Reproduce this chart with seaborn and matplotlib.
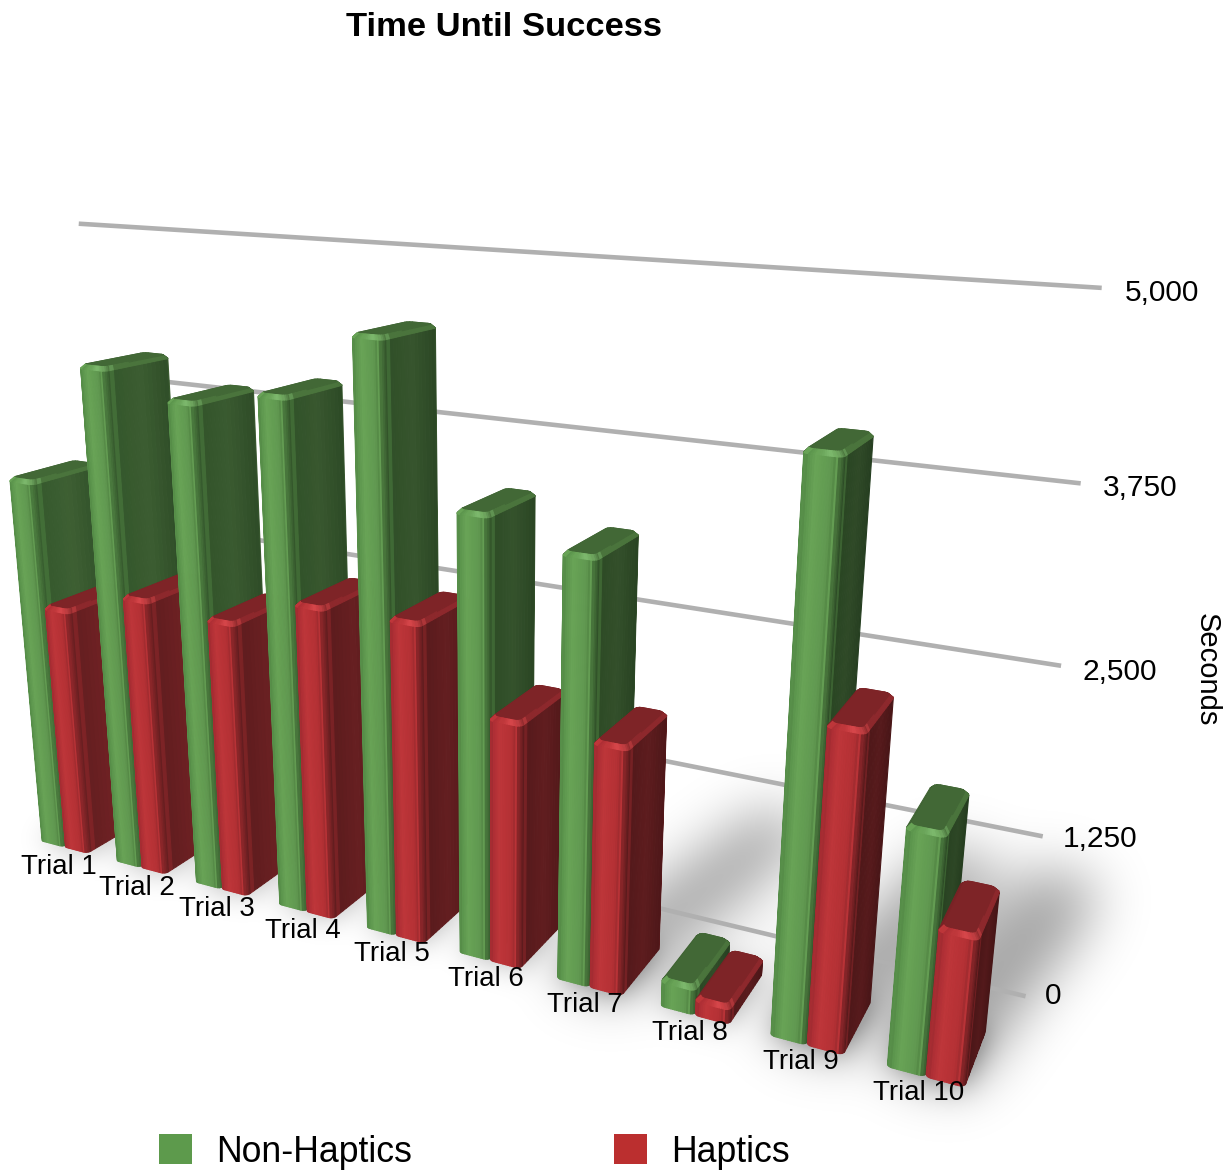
import numpy as np
import pandas as pd
import seaborn as sns
import matplotlib
matplotlib.use("Agg")
import matplotlib.pyplot as plt
from matplotlib.patches import Patch
from matplotlib.path import Path
from mpl_toolkits.mplot3d import proj3d
from mpl_toolkits.mplot3d.art3d import Poly3DCollection

# ---- data -------------------------------------------------------------
trials = ["Trial 1", "Trial 2", "Trial 3", "Trial 4", "Trial 5",
          "Trial 6", "Trial 7", "Trial 8", "Trial 9", "Trial 10"]
non_haptics = [3130, 4090, 3905, 4025, 4510, 3375, 3190, 215, 4060, 1735]
haptics = [2110, 2315, 2260, 2505, 2515, 1915, 1890, 135, 2320, 1085]
value_ticks = [0, 1250, 2500, 3750, 5000]
tick_labels = ["0", "1,250", "2,500", "3,750", "5,000"]
series_names = ["Non-Haptics", "Haptics"]
axis_title = "Seconds"
chart_title = "Time Until Success"

sns.set_theme(style="white")
plt.rcParams["font.family"] = ["Liberation Sans", "DejaVu Sans"]
palette = sns.color_palette(["#5d9a4c", "#bb2f2f"])

df = pd.DataFrame({"trial": trials, series_names[0]: non_haptics, series_names[1]: haptics})

W, H = 1231, 1171
fig = plt.figure(figsize=(W / 100, H / 100), dpi=100, facecolor="white")

# ---- camera: pinhole model expressed through Axes3D's own view parameters
F_PX = 1544.0            # focal length in pixels
PX, PY = 606.0, 548.0    # principal point
UX, UY = 0.1334, 0.131   # world size of one x / y data unit
UZ = 6031.0              # value units per world unit
CAM_DIST = 1.9
xlim, ylim, zlim = (0, 11.8), (0, 3.107), (0, 5745)
aspect = np.array([(xlim[1] - xlim[0]) * UX, (ylim[1] - ylim[0]) * UY, (zlim[1] - zlim[0]) / UZ])
s = 1.8294640721620434 * 25 / 24 / np.linalg.norm(aspect)
focal = CAM_DIST * s / 10
S = F_PX / focal * 0.185
left = PX - S * 0.095 / 0.185
bottom = (H - PY) - S * 0.095 / 0.185
ax = fig.add_axes([left / W, bottom / H, S / W, S / H], projection="3d", zorder=1)
ax.set_xlim(*xlim, view_margin=0)
ax.set_ylim(*ylim, view_margin=0)
ax.set_zlim(*zlim, view_margin=0)
ax.set_box_aspect(aspect)
ax.set_proj_type("persp", focal_length=focal)
ax.view_init(elev=16.0, azim=-66.0, roll=-1.18)
ax.set_axis_off()
ax.computed_zorder = False
ax.patch.set_alpha(0)
ax.apply_aspect()
M = ax.get_proj()


def to_pixels(x, y, z):
    """Project data coordinates through the 3D axes to display pixels (origin bottom-left)."""
    tx, ty, _ = proj3d.proj_transform(np.asarray(x, float), np.asarray(y, float), np.asarray(z, float), M)
    return ax.transData.transform(np.column_stack([tx, ty]))


cam_xy = np.array([1.53 / UX, -1.465 / UY])
BAR_W, BAR_D, GAP, WALL_Y = 0.3186, 0.92, 0.178, 1.595
RADIUS, BEVEL = 0.05, 28.0


def ramp(stops, t):
    xs = [a for a, _ in stops]
    return np.array([np.interp(t, xs, [c[k] for _, c in stops]) for k in range(3)]) / 255.0


STYLES = {
    0: dict(front=[(0, (90, 148, 76)), (.3, (104, 163, 86)), (.85, (96, 152, 80)), (1, (82, 134, 68))],
            side=[(0, (50, 84, 42)), (.5, (58, 90, 48)), (1, (46, 76, 39))],
            top=(66, 104, 54), rim=(124, 184, 108)),
    1: dict(front=[(0, (172, 46, 52)), (.3, (190, 54, 58)), (.85, (180, 48, 52)), (1, (156, 42, 46))],
            side=[(0, (94, 28, 30)), (.5, (106, 32, 34)), (1, (88, 26, 28))],
            top=(126, 36, 39), rim=(214, 70, 74)),
}


def footprint(x0, x1, y0, y1, r):
    """Rounded rectangle outline: point, outward normal, face kind and position on that face."""
    pts = []
    for u in np.linspace(0, 1, 13):
        pts.append((x0 + r + (x1 - x0 - 2 * r) * u, y0, 0, -1, "front", u))
    for a in np.radians(np.linspace(-90, 0, 6))[1:]:
        pts.append((x1 - r + r * np.cos(a), y0 + r + r * np.sin(a), np.cos(a), np.sin(a), "cr", (a + np.pi / 2) / (np.pi / 2)))
    for u in np.linspace(0, 1, 15)[1:]:
        pts.append((x1, y0 + r + (y1 - y0 - 2 * r) * u, 1, 0, "side", u))
    for a in np.radians(np.linspace(0, 90, 4))[1:]:
        pts.append((x1 - r + r * np.cos(a), y1 - r + r * np.sin(a), np.cos(a), np.sin(a), "back", 0))
    pts.append((x0 + r, y1, 0, 1, "back", 0))
    for a in np.radians(np.linspace(90, 180, 4))[1:]:
        pts.append((x0 + r + r * np.cos(a), y1 - r + r * np.sin(a), np.cos(a), np.sin(a), "back", 0))
    pts.append((x0, y0 + r, -1, 0, "back", 0))
    for a in np.radians(np.linspace(180, 270, 6))[1:-1]:
        pts.append((x0 + r + r * np.cos(a), y0 + r + r * np.sin(a), np.cos(a), np.sin(a), "cl", (a - np.pi) / (np.pi / 2)))
    return pts


def facet_colour(style, kind, u, dark):
    if kind == "front":
        return ramp(style["front"], u)
    if kind == "side":
        return ramp(style["side"], u) * dark
    if kind == "cr":
        a = ramp(style["front"], 1.0)
        b = ramp(style["side"], 0.0) * dark
        return a + (b - a) * u
    if kind == "cl":
        return ramp(style["front"], 0.0) * (0.92 + 0.08 * u)
    return np.array(style["top"]) / 255.0


def ring_colour(style, kind, u):
    top = np.array(style["top"]) / 255.0
    rim = np.array(style["rim"]) / 255.0
    if kind == "front":
        base = ramp(style["front"], u)
        w = np.exp(-((u - 0.82) / 0.3) ** 2)
        return base + (rim - base) * w
    if kind == "cr":
        return rim + (top * 1.1 - rim) * u
    if kind == "cl":
        return ramp(style["front"], 0.3)
    if kind == "side":
        return top * 1.12
    return top * 0.95


def draw_bar(x0, value, series, order, index):
    style = STYLES[series]
    dark = 1.06 - 0.03 * index
    x1, y0, y1 = x0 + BAR_W, 0.0, BAR_D
    bev = min(BEVEL, value * 0.4)
    outer = footprint(x0, x1, y0, y1, RADIUS)
    inset = 0.03
    inner = footprint(x0 + inset, x1 - inset, y0 + inset, y1 - inset, RADIUS)
    top_rgb = np.array(style["top"]) / 255.0
    polys, cols = [], []
    n = len(outer)
    for k in range(n):
        a, b = outer[k], outer[(k + 1) % n]
        ia, ib = inner[k], inner[(k + 1) % n]
        mid = np.array([(a[0] + b[0]) / 2, (a[1] + b[1]) / 2])
        normal = np.array([(a[2] + b[2]) / 2, (a[3] + b[3]) / 2])
        u = (a[5] + b[5]) / 2
        if np.dot(cam_xy - mid, normal) > 0:
            polys.append([(a[0], a[1], 0), (b[0], b[1], 0), (b[0], b[1], value - bev), (a[0], a[1], value - bev)])
            cols.append(facet_colour(style, a[4], u, dark))
        polys.append([(a[0], a[1], value - bev), (b[0], b[1], value - bev), (ib[0], ib[1], value), (ia[0], ia[1], value)])
        cols.append(ring_colour(style, a[4], u))
    polys.append([(p[0], p[1], value) for p in inner])
    cols.append(top_rgb)
    cols = [tuple(np.clip(c, 0, 1)) for c in cols]
    ax.add_collection3d(Poly3DCollection(polys, facecolors=cols, edgecolors=cols, linewidths=0.8, zorder=order))


# ---- floor shadows: rasterised footprints swept over the floor, softly blurred
cast_strength = [0.0, 0.0, 0.0, 0.0, 0.0, 0.0, 1.0, 0.1, 1.0, 1.0]
cast_reach = 3.2
ds = 2
gy, gx = np.mgrid[0:H // ds, 0:W // ds]
grid = np.column_stack([(gx.ravel() + 0.5) * ds, (gy.ravel() + 0.5) * ds])


def gaussian(img, sigma):
    radius = int(3 * sigma)
    kernel = np.exp(-0.5 * (np.arange(-radius, radius + 1) / sigma) ** 2)
    kernel /= kernel.sum()
    out = np.apply_along_axis(lambda v: np.convolve(v, kernel, mode="same"), 0, img)
    return np.apply_along_axis(lambda v: np.convolve(v, kernel, mode="same"), 1, out)


def fill(poly_xy):
    pts = to_pixels([p[0] for p in poly_xy], [p[1] for p in poly_xy], [0] * len(poly_xy))
    return Path(pts).contains_points(grid).reshape(gx.shape).astype(float)


halo = np.zeros(gx.shape)
cast = np.zeros(gx.shape)
for i, st in enumerate(cast_strength):
    xa, xb = i + GAP, i + GAP + 2 * BAR_W
    halo = np.maximum(halo, fill([(xa, 0), (xb, 0), (xb, BAR_D), (xa, BAR_D)]))
    if st > 0:
        L = cast_reach * (1.0 if st > 0.5 else 0.3)
        dx, dy = 0.16 * L, L
        cast = np.maximum(cast, st * fill([(xa, 0), (xb, 0), (xb + dx, dy), (xb + dx, BAR_D + dy),
                                           (xa + dx, BAR_D + dy), (xa, BAR_D)]))
shade = 0.38 * gaussian(cast, 14.0) + 0.30 * gaussian(halo, 7.0)
rgba = np.zeros(gx.shape + (4,))
rgba[..., 3] = np.clip(shade, 0, 0.36)
bg = fig.add_axes([0, 0, 1, 1], zorder=0)
bg.imshow(rgba, origin="lower", extent=(0, W, 0, H), interpolation="bilinear", aspect="auto")
bg.set_xlim(0, W)
bg.set_ylim(0, H)
bg.set_axis_off()


def fig_text_at(px, py, label, **kw):
    fig.text(px / W, py / H, label, **kw)


# ---- gridlines on the back wall, with labels
label_nudge = [5, 1, -3, -2, -4]
for v, lab, dy in zip(value_ticks, tick_labels, label_nudge):
    ax.plot([-0.14, 10.03], [WALL_Y, WALL_Y], [v, v], color="#b0b0b0", lw=3.3, zorder=2, solid_capstyle="butt")
    px, py = to_pixels([10.2], [WALL_Y], [v])[0]
    fig_text_at(px, py + dy, lab, fontsize=21.5, color="black", ha="left", va="center", zorder=5)

# ---- bars, back to front for the viewer (left to right)
order = 3
for i, row in df.iterrows():
    draw_bar(i + GAP, row[series_names[0]], 0, order, i)
    draw_bar(i + GAP + BAR_W, row[series_names[1]], 1, order + 1, i)
    order += 2

# ---- category labels
for i, lab in enumerate(trials):
    px, py = to_pixels([i + 0.78 - 0.031 * i], [-0.37 + 0.015 * i], [0])[0]
    fig_text_at(px, py, lab, fontsize=19.9, color="black", ha="center", va="center", zorder=6)

fig.text(503.5 / W, 1 - 28 / H, chart_title, fontsize=24.8, fontweight="bold", color="black", ha="center", va="center", zorder=6)
fig.text(1207 / W, 1 - 670 / H, axis_title, fontsize=21, color="black", rotation=270, ha="center", va="center", zorder=6)

handles = [Patch(facecolor=palette[0], edgecolor="none"), Patch(facecolor=palette[1], edgecolor="none")]
fig.legend(handles, series_names, loc="center left", bbox_to_anchor=(159 / W, 1 - 1152 / H), ncol=2,
           frameon=False, fontsize=25.7, handlelength=0.92, handleheight=0.92, handletextpad=0.68,
           columnspacing=5.66, borderpad=0, borderaxespad=0, labelcolor="black")

fig.savefig("out.png", dpi=100, facecolor="white")
